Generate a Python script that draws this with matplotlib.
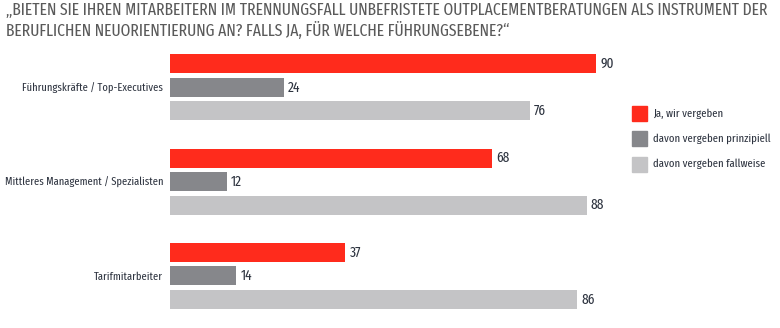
import matplotlib.pyplot as plt
from matplotlib.patches import Rectangle

plt.rcParams['font.family'] = ['Fira Sans Extra Condensed', 'Roboto Condensed', 'DejaVu Sans']

title_lines = ["„BIETEN SIE IHREN MITARBEITERN IM TRENNUNGSFALL UNBEFRISTETE OUTPLACEMENTBERATUNGEN ALS INSTRUMENT DER",
               "BERUFLICHEN NEUORIENTIERUNG AN? FALLS JA, FÜR WELCHE FÜHRUNGSEBENE?“"]
categories = ['Führungskräfte / Top-Executives', 'Mittleres Management / Spezialisten', 'Tarifmitarbeiter']
series = ['Ja, wir vergeben', 'davon vergeben prinzipiell', 'davon vergeben fallweise']
ja = [90, 68, 37]
prinzipiell = [24, 12, 14]
fallweise = [76, 88, 86]

colors = ['#FF2B1C', '#86878B', '#C4C4C6']
text_col = '#2E3440'

fig = plt.figure(figsize=(7.8, 3.28), dpi=100)
renderer = fig.canvas.get_renderer()


def fit(txt, target_px, size):
    # shrink/grow a text so that it is target_px wide
    txt.set_fontsize(size)
    w = txt.get_window_extent(renderer).width
    txt.set_fontsize(min(size * target_px / w, size * 1.15))


ax = fig.add_axes([170 / 780, 1 - 311.3 / 328, 600 / 780, 259.3 / 328])

values = [ja, prinzipiell, fallweise]
for j, vals in enumerate(values):
    ys = [i * 4 + j for i in range(len(categories))]
    ax.barh(ys, vals, height=0.81, color=colors[j], label=series[j])
    for y, v in zip(ys, vals):
        ax.text(v + 0.9, y, str(v), va='center', ha='left', fontsize=10.5, color=text_col)

ax.set_xlim(0, 600 / 4.733)
ax.set_ylim(10.5, -0.5)
ax.set_yticks([i * 4 + 1 for i in range(len(categories))])
ax.set_yticklabels(categories, fontsize=10, color=text_col)
ax.tick_params(axis='y', length=0, pad=5)
ax.set_xticks([])
for s in ax.spines.values():
    s.set_visible(False)

# fit category labels: longest one is about 158 px wide
labs = ax.get_yticklabels()
w = max(l.get_window_extent(renderer).width for l in labs)
sz = min(10 * 158 / w, 11)
for l in labs:
    l.set_fontsize(sz)

# legend, drawn by hand in pixel positions of the reference
H = 328
leg_y = [114, 138.5, 164]
for c, s, y in zip(colors, series, leg_y):
    fig.add_artist(Rectangle((632 / 780, 1 - (y + 7.5) / H), 15 / 780, 15 / H,
                             transform=fig.transFigure, color=c))
    t = fig.text(653 / 780, 1 - y / H, s, ha='left', va='center', color=text_col, fontsize=10)
leg_texts = fig.texts[-3:]
w = max(t.get_window_extent(renderer).width for t in leg_texts)
for t in leg_texts:
    t.set_fontsize(min(10 * 117 / w, 11))

# title, two lines
t1 = fig.text(6 / 780, 1 - 10.5 / H, title_lines[0], ha='left', va='center', color='#5A5A5A')
t2 = fig.text(6 / 780, 1 - 30 / H, title_lines[1], ha='left', va='center', color='#5A5A5A')
fit(t1, 764, 13)
t2.set_fontsize(t1.get_fontsize())

fig.savefig('out.png', dpi=100)
